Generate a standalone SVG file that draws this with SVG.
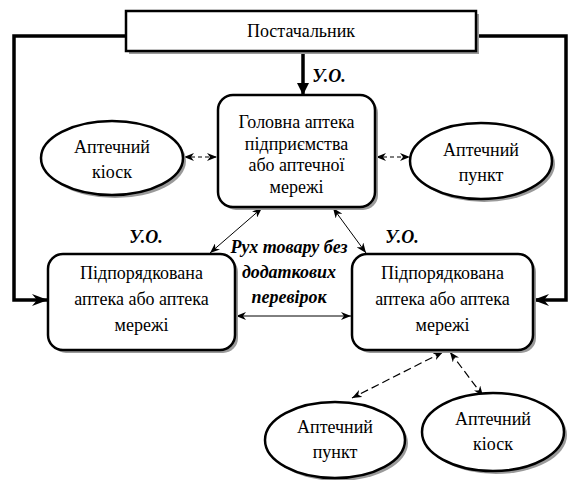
<svg xmlns="http://www.w3.org/2000/svg" width="570" height="480" viewBox="0 0 570 480">
<style>
text{font-family:"Liberation Serif","Times New Roman",serif;font-size:18px;fill:#000;text-anchor:middle}
.b{font-weight:bold;font-style:italic}
.node{fill:#fff;stroke:#000;stroke-width:2.5}
.sh{fill:#9a9a9a}
.thick{fill:none;stroke:#000;stroke-width:3.5}
.thin{fill:none;stroke:#000;stroke-width:1}
.dash{fill:none;stroke:#000;stroke-width:1.2;stroke-dasharray:4,3}
.dash2{fill:none;stroke:#000;stroke-width:1.2;stroke-dasharray:8,4}
</style>
<defs>
<marker id="big" markerUnits="userSpaceOnUse" markerWidth="16" markerHeight="12" refX="15" refY="6" orient="auto">
<path d="M0,0 L16,6 L0,12 L5,6 z" fill="#000"/>
</marker>
<marker id="tri" markerUnits="userSpaceOnUse" markerWidth="12" markerHeight="14" refX="12" refY="7" orient="auto">
<path d="M0,1 L12,7 L0,13 z" fill="#000"/>
</marker>
<marker id="sm" markerUnits="userSpaceOnUse" markerWidth="10" markerHeight="8" refX="10" refY="4" orient="auto">
<path d="M0,0 L10,4 L0,8 L3,4 z" fill="#000"/>
</marker>
<marker id="sms" markerUnits="userSpaceOnUse" markerWidth="10" markerHeight="8" refX="0" refY="4" orient="auto">
<path d="M10,0 L0,4 L10,8 L7,4 z" fill="#000"/>
</marker>
</defs>

<g id="connectors">
<path class="thick" d="M126,36 H14 V300 H47" marker-end="url(#big)"/>
<path class="thick" d="M476,36 H566 V300 H534" marker-end="url(#big)"/>
<path class="thick" d="M303,51 V95" marker-end="url(#tri)"/>
<path class="dash" d="M184,157 H217" marker-start="url(#sms)" marker-end="url(#sm)"/>
<path class="dash" d="M376,157 H410" marker-start="url(#sms)" marker-end="url(#sm)"/>
<path class="thin" d="M262,208 L210,253" marker-start="url(#sms)" marker-end="url(#sm)"/>
<path class="thin" d="M333,208 L366,253" marker-start="url(#sms)" marker-end="url(#sm)"/>
<path class="thin" d="M236,316 H351" marker-start="url(#sms)" marker-end="url(#sm)"/>
<path class="dash2" d="M443,352 L352,398" marker-start="url(#sms)" marker-end="url(#sm)"/>
<path class="dash2" d="M450,352 L483,396" marker-start="url(#sms)" marker-end="url(#sm)"/>
</g>

<g id="supplier">
<rect class="sh" x="129" y="14" width="350" height="40"/>
<rect class="node" x="126" y="11" width="350" height="40"/>
<text x="301" y="37">Постачальник</text>
</g>

<g id="main">
<rect class="sh" x="221" y="98" width="157" height="112" rx="15"/>
<rect class="node" x="218" y="95" width="157" height="112" rx="15"/>
<text x="296.5" y="128">Головна аптека</text>
<text x="296.5" y="150">підприємства</text>
<text x="296.5" y="171">або аптечної</text>
<text x="296.5" y="193">мережі</text>
</g>

<g id="sub-left">
<rect class="sh" x="51" y="257" width="187" height="96" rx="15"/>
<rect class="node" x="48" y="254" width="187" height="96" rx="15"/>
<text x="141.5" y="279">Підпорядкована</text>
<text x="141.5" y="305">аптека або аптека</text>
<text x="141.5" y="331">мережі</text>
</g>

<g id="sub-right">
<rect class="sh" x="355" y="257" width="181" height="96" rx="15"/>
<rect class="node" x="352" y="254" width="181" height="96" rx="15"/>
<text x="442.5" y="279">Підпорядкована</text>
<text x="442.5" y="305">аптека або аптека</text>
<text x="442.5" y="331">мережі</text>
</g>

<g id="kiosk-top">
<ellipse class="sh" cx="115" cy="161" rx="71" ry="37"/>
<ellipse class="node" cx="112" cy="158" rx="71" ry="37"/>
<text x="112" y="153">Аптечний</text>
<text x="112" y="178">кіоск</text>
</g>

<g id="punkt-top">
<ellipse class="sh" cx="484" cy="164" rx="71" ry="38"/>
<ellipse class="node" cx="481" cy="161" rx="71" ry="38"/>
<text x="481" y="156">Аптечний</text>
<text x="481" y="181">пункт</text>
</g>

<g id="punkt-bottom">
<ellipse class="sh" cx="338" cy="443" rx="70" ry="38"/>
<ellipse class="node" cx="335" cy="440" rx="70" ry="38"/>
<text x="335" y="433">Аптечний</text>
<text x="335" y="458">пункт</text>
</g>

<g id="kiosk-bottom">
<ellipse class="sh" cx="496" cy="435" rx="71" ry="39"/>
<ellipse class="node" cx="493" cy="432" rx="71" ry="39"/>
<text x="493" y="425">Аптечний</text>
<text x="493" y="450">кіоск</text>
</g>

<g id="labels">
<text class="b" x="329" y="82">У.О.</text>
<text class="b" x="146" y="243">У.О.</text>
<text class="b" x="402" y="243">У.О.</text>
<text class="b" x="289" y="253">Рух товару без</text>
<text class="b" x="289" y="278">додаткових</text>
<text class="b" x="289" y="303">перевірок</text>
</g>
</svg>
